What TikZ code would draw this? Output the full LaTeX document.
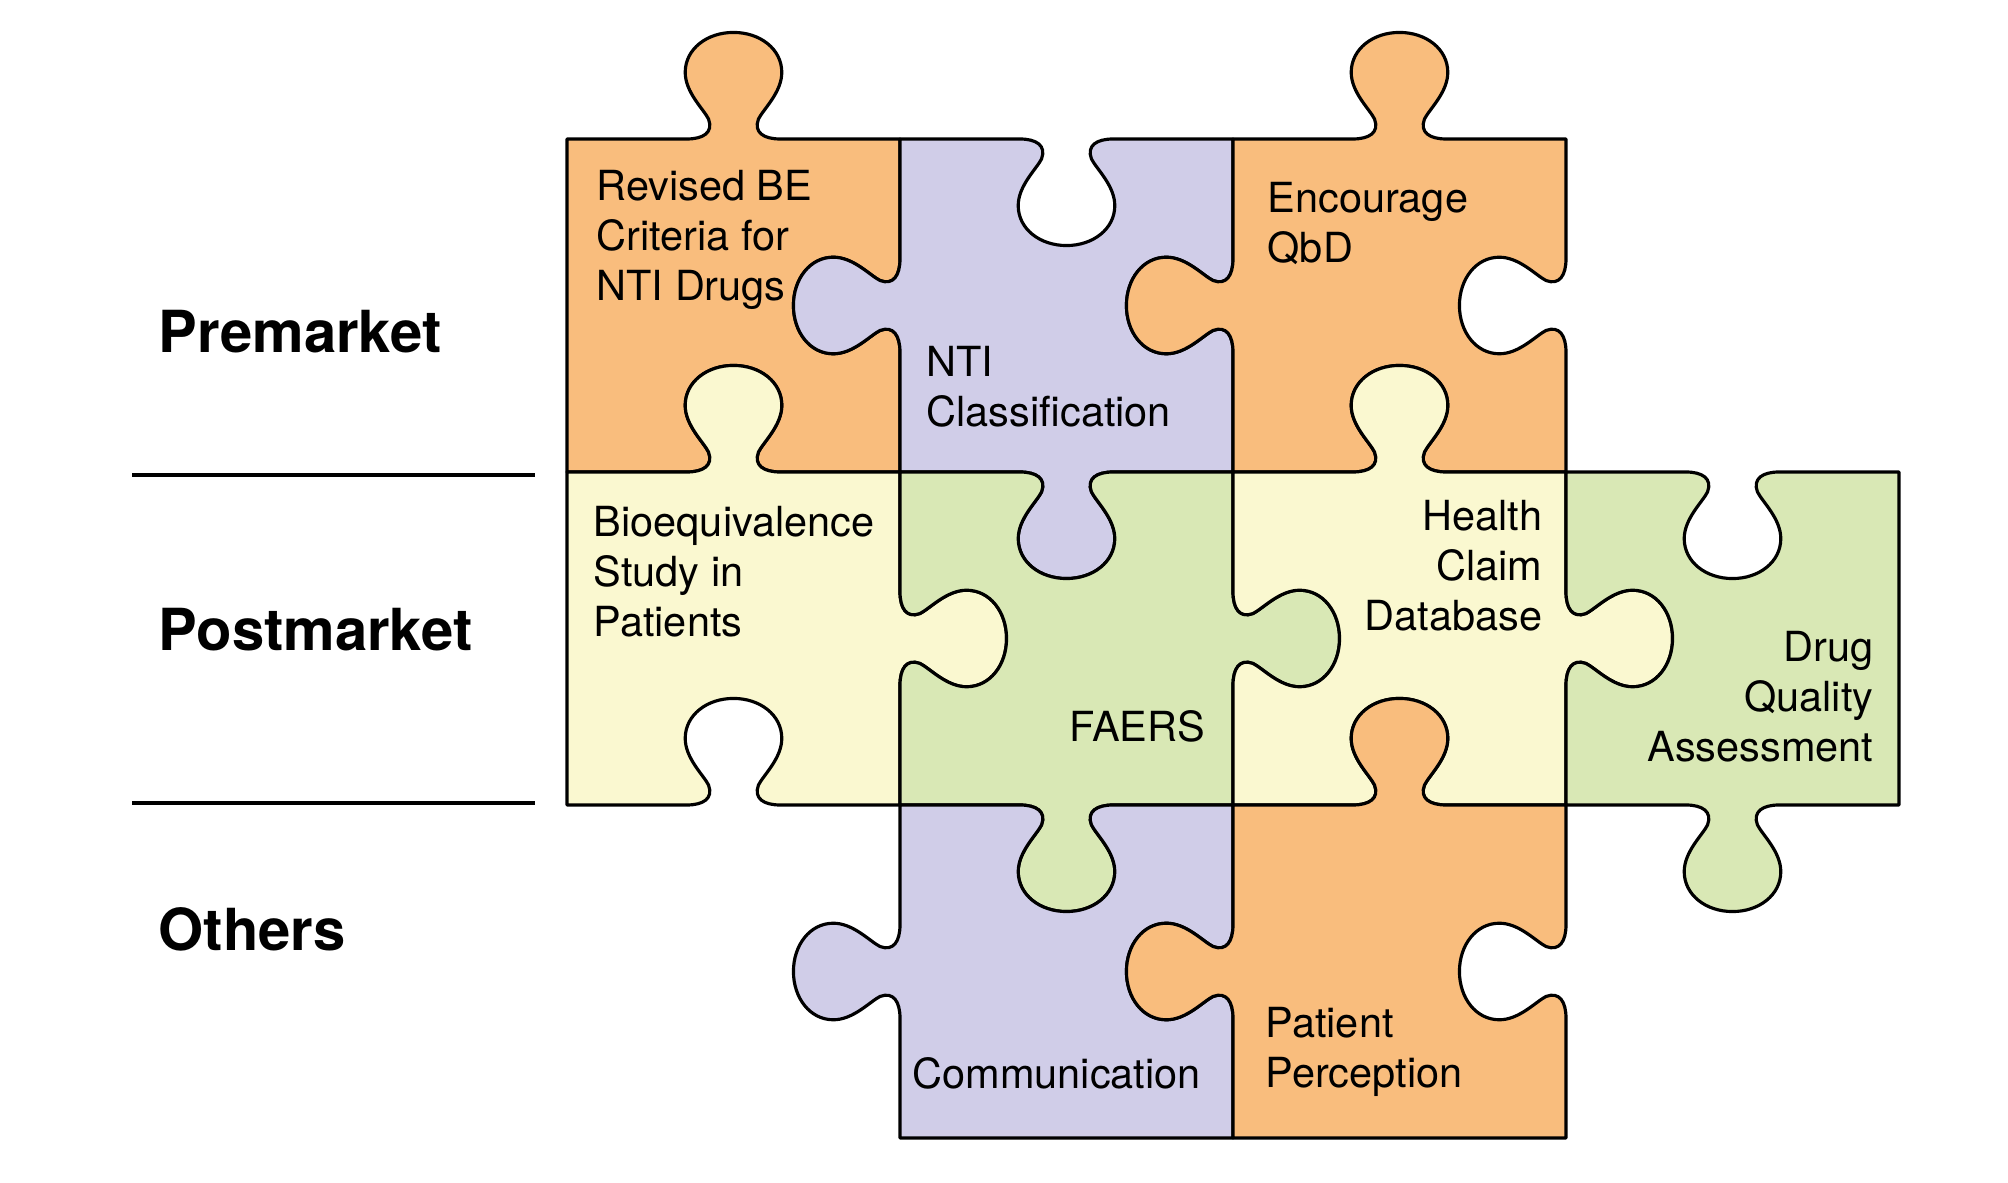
\documentclass[tikz,border=0pt]{standalone}
\usepackage{fontspec}
\setmainfont{TeX Gyre Heros}
\definecolor{pzorange}{RGB}{249,189,125}
\definecolor{pzpurple}{RGB}{208,205,232}
\definecolor{pzyellow}{RGB}{250,248,208}
\definecolor{pzgreen}{RGB}{217,232,181}
% one tab on the unit edge (0,0)--(1,0), bulging to +y
\newcommand{\tabshape}{-- (0.36,0) .. controls (0.41,0) and (0.44,0.02) .. (0.425,0.06)
  .. controls (0.41,0.09) and (0.355,0.14) .. (0.355,0.2)
  .. controls (0.355,0.27) and (0.42,0.32) .. (0.5,0.32)
  .. controls (0.58,0.32) and (0.645,0.27) .. (0.645,0.2)
  .. controls (0.645,0.14) and (0.59,0.09) .. (0.575,0.06)
  .. controls (0.56,0.02) and (0.59,0) .. (0.64,0) -- (1,0)}
\newcommand{\edgetab}[3]{{[shift={#1},rotate=#2,yscale=#3] \tabshape}}

\begin{document}
\begin{tikzpicture}[
    piece/.style={draw=black, line width=0.9pt, line join=round},
    lbl/.style={font=\fontsize{11.8}{14.2}\selectfont, inner sep=0pt},
    rowlbl/.style={font=\fontsize{16.5}{20}\selectfont\bfseries, inner sep=0pt, anchor=base west}]
  \useasboundingbox (0,0) rectangle (20.08,11.83);
  % puzzle pieces: column/row/top/right/bottom/left/colour (1 knob, -1 hole, 0 flat)
  \begin{scope}[shift={(5.67,0.45)}, x=3.33cm, y=3.33cm]
    \foreach \c/\r/\t/\rt/\b/\l/\col in {
        0/2/1/-1/-1/0/pzorange, 1/2/-1/-1/1/1/pzpurple, 2/2/1/-1/-1/1/pzorange,
        0/1/1/1/-1/0/pzyellow, 1/1/-1/1/1/-1/pzgreen, 2/1/1/1/-1/-1/pzyellow,
        3/1/-1/0/1/-1/pzgreen, 1/0/-1/-1/0/1/pzpurple, 2/0/1/-1/0/1/pzorange} {
      \draw[piece, fill=\col] (\c,\r+1) \edgetab{(\c,\r+1)}{0}{\t}
        \edgetab{(\c+1,\r+1)}{-90}{\rt} \edgetab{(\c+1,\r)}{180}{\b}
        \edgetab{(\c,\r)}{90}{\l} -- cycle;
    }
  \end{scope}
  % texts on the pieces
  \node[lbl, anchor=north west, align=left] (revised) at (5.96,10.13) {Revised BE\\Criteria for\\NTI Drugs};
  \node[lbl, anchor=north west, align=left] (nticlass) at (9.26,8.37) {NTI\\Classification};
  \node[lbl, anchor=north west, align=left] (qbd) at (12.67,10.01) {Encourage\\QbD};
  \node[lbl, anchor=north west, align=left] (bioeq) at (5.93,6.77) {Bioequivalence\\Study in\\Patients};
  \node[lbl, anchor=base west] (faers) at (10.69,4.41) {FAERS};
  \node[lbl, anchor=north east, align=right] (health) at (15.43,6.83) {Health\\Claim\\Database};
  \node[lbl, anchor=north east, align=right] (drugq) at (18.74,5.52) {Drug\\Quality\\Assessment};
  \node[lbl, anchor=base west] (comm) at (9.12,0.94) {Communication};
  \node[lbl, anchor=north west, align=left] (patient) at (12.65,1.76) {Patient\\Perception};
  % row labels and separators
  \node[rowlbl] (pre) at (1.58,8.30) {Premarket};
  \node[rowlbl] (post) at (1.58,5.32) {Postmarket};
  \node[rowlbl] (others) at (1.58,2.32) {Others};
  \draw[line width=0.9pt] (1.32,7.08) -- (5.35,7.08);
  \draw[line width=0.9pt] (1.32,3.80) -- (5.35,3.80);
\end{tikzpicture}
\end{document}
